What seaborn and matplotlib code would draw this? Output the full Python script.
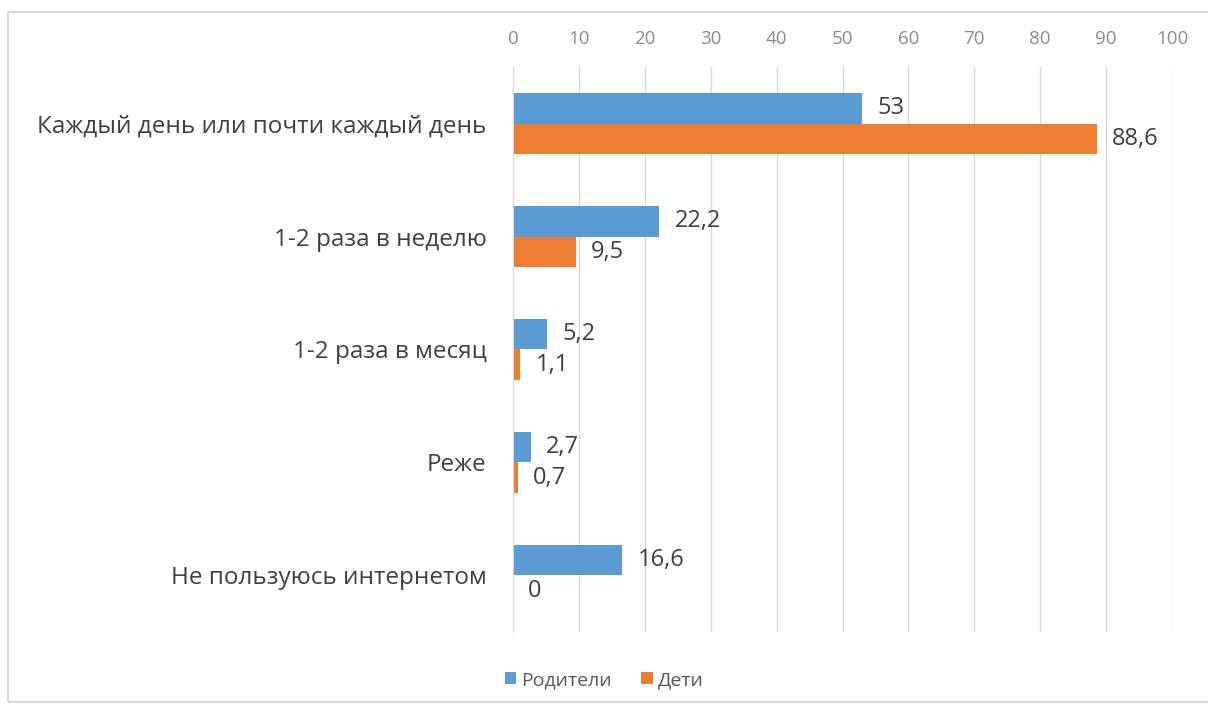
import pandas as pd
import matplotlib.pyplot as plt
import seaborn as sns
from matplotlib.patches import Rectangle

sns.set_style("white")
plt.rcParams['font.family'] = ['Open Sans', 'DejaVu Sans']

categories = [
    "Каждый день или почти каждый день",
    "1-2 раза в неделю",
    "1-2 раза в месяц",
    "Реже",
    "Не пользуюсь интернетом",
]
parents = [53, 22.2, 5.2, 2.7, 16.6]
children = [88.6, 9.5, 1.1, 0.7, 0]
series = ["Родители", "Дети"]
colors = ["#5B9BD5", "#ED7D31"]

df = pd.DataFrame({
    "category": categories * 2,
    "value": parents + children,
    "group": [series[0]] * len(categories) + [series[1]] * len(categories),
})

fig = plt.figure(figsize=(12.08, 7.06), dpi=100)
ax = fig.add_axes([0.4247, 0.105, 0.5455, 0.80])

sns.barplot(data=df, x="value", y="category", hue="group", orient="h",
            palette=colors, width=0.54, saturation=1, linewidth=0,
            ax=ax, legend=True)

ax.set_xlim(0, 100)
ax.set_xticks(range(0, 101, 10))
ax.xaxis.tick_top()
ax.tick_params(axis="x", length=0, pad=14, labelsize=13.5, labelcolor="#8c8c8c")
ax.tick_params(axis="y", length=0, pad=19, labelsize=17.5, labelcolor="#404040")
ax.grid(axis="x", color="#d9d9d9", linewidth=1)
ax.set_axisbelow(True)
for s in ["top", "right", "bottom"]:
    ax.spines[s].set_visible(False)
ax.spines["left"].set_color("#d9d9d9")
ax.set_xlabel("")
ax.set_ylabel("")

for cont in ax.containers:
    labels = [f"{v:g}".replace(".", ",") for v in cont.datavalues]
    ax.bar_label(cont, labels=labels, padding=11, fontsize=17, color="#404040")

handles, labs = ax.get_legend_handles_labels()
ax.legend(handles, labs, loc="center", bbox_to_anchor=(0.5, 1 - 680 / 706),
          bbox_transform=fig.transFigure, ncol=2, frameon=False, fontsize=14,
          handlelength=0.6, handleheight=0.6, handletextpad=0.25, columnspacing=1.5,
          labelcolor="#595959")

fig.patches.append(Rectangle((8 / 1208, 0.005), 1.0, 1 - 12 / 706 - 0.005,
                             transform=fig.transFigure, fill=False,
                             edgecolor="#d9d9d9", linewidth=1.5))

fig.savefig("out.png", dpi=100)
